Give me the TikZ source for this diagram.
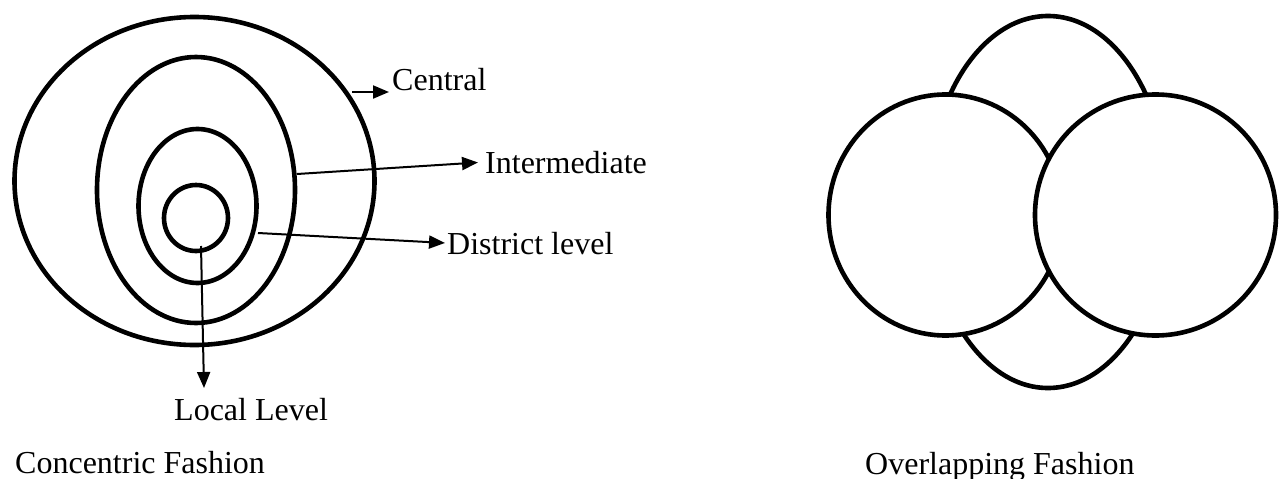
\documentclass[tikz,border=0pt]{standalone}
\usepackage{fontspec}
\setmainfont{Liberation Serif}
\usetikzlibrary{arrows.meta}
\begin{document}
\begin{tikzpicture}[x=1pt,y=-1pt,
  ring/.style={line width=4.6pt},
  lobe/.style={line width=4.6pt, fill=white},
  pointer/.style={line width=2pt,-{Triangle[length=16pt,width=13pt]}},
  lbl/.style={font=\fontsize{32}{38}\selectfont, inner sep=0pt}]
\useasboundingbox (0,0) rectangle (1285,479);

% concentric rings
\draw[ring] (194.5,181) ellipse [x radius=180, y radius=164];
\draw[ring] (196,190) ellipse [x radius=99, y radius=133];
\draw[ring] (197.5,206) ellipse [x radius=59, y radius=77];
\draw[ring] (196,218) ellipse [x radius=32, y radius=33];

% anchor points on the rings
\coordinate (pc) at (352,92);
\coordinate (pi) at (297,174);
\coordinate (pd) at (258,233);
\coordinate (pl) at (201,246);
\coordinate (tl) at (204,388);

% labels
\node[lbl, anchor=base west] (central) at (392,90) {Central};
\node[lbl, anchor=base west] (inter) at (485,173) {Intermediate};
\node[lbl, anchor=base west] (district) at (447,254) {District level};
\node[lbl, anchor=base west] (local) at (174,420) {Local Level};
\node[lbl, anchor=base west] (conc) at (15,473) {Concentric Fashion};
\node[lbl, anchor=base west] (over) at (865,474) {Overlapping Fashion};

% pointers
\draw[pointer, shorten >=3pt] (pc) -- ([yshift=-2pt]central.base west);
\draw[pointer, shorten >=7pt] (pi) -- (inter.west);
\draw[pointer, shorten >=2pt] (pd) -- (district.west);
\draw[pointer] (pl) -- (tl);

% overlapping shapes
\draw[lobe] (1048,202) ellipse [x radius=120, y radius=186];
\draw[lobe] (945.5,215) ellipse [x radius=117, y radius=120.5];
\draw[lobe] (1155.5,215) ellipse [x radius=120.5, y radius=120.5];
\end{tikzpicture}
\end{document}
